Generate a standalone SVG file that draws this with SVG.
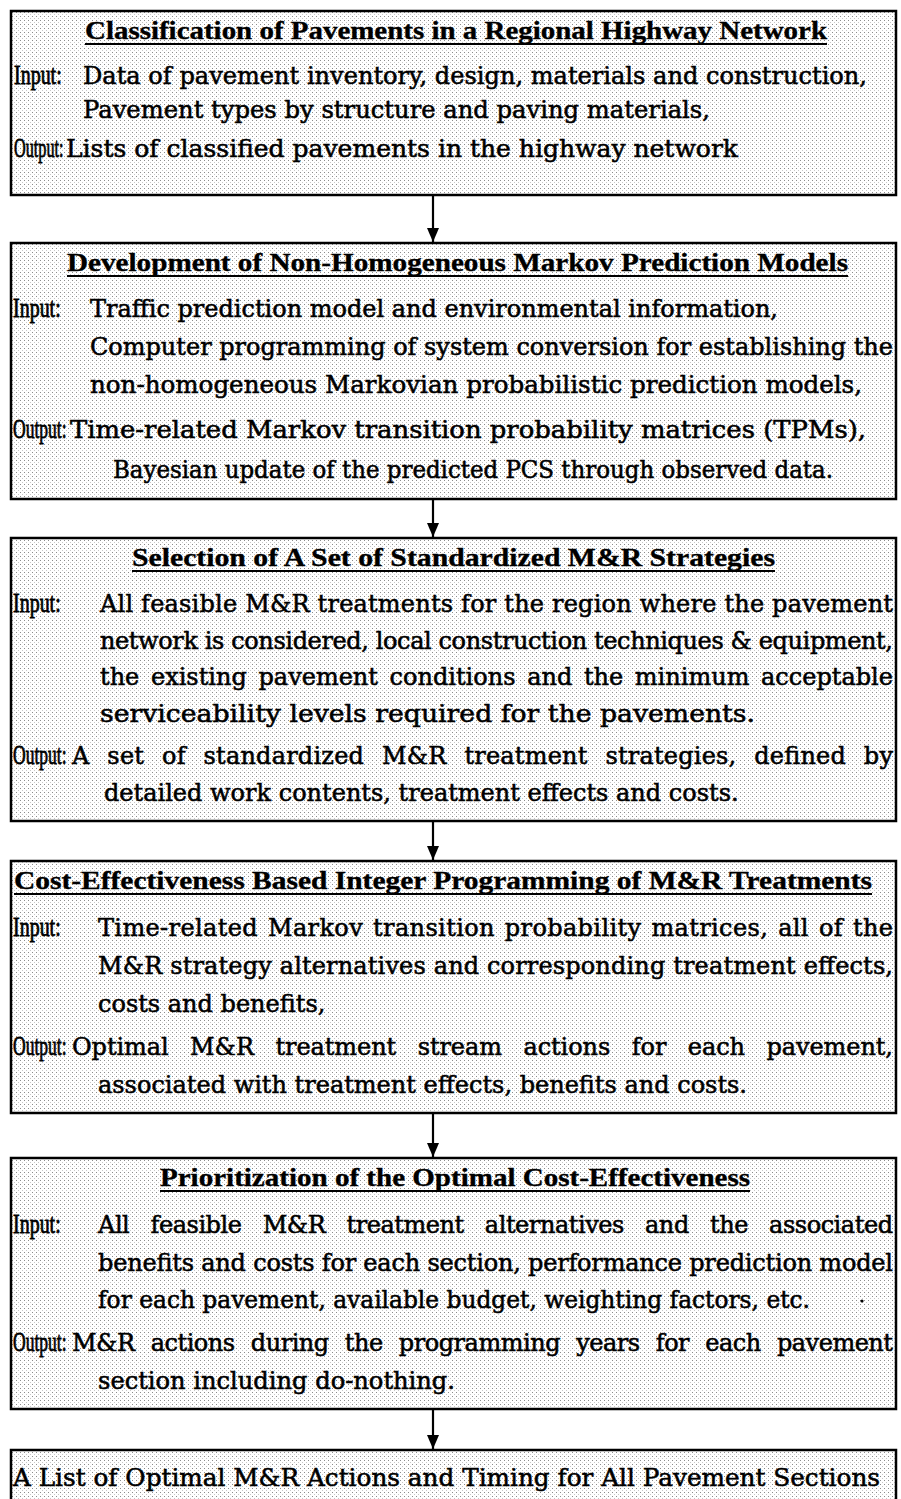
<svg xmlns="http://www.w3.org/2000/svg" width="901" height="1499" viewBox="0 0 901 1499">
  <defs>
    <!-- halftone screen used as the box fill -->
    <pattern id="stipple" width="4" height="4" patternUnits="userSpaceOnUse">
      <rect width="4" height="4" fill="#ffffff"/>
      <rect x="0" y="0" width="1" height="1" fill="#8c8c8c"/>
      <rect x="2" y="2" width="1" height="1" fill="#c8c8c8"/>
    </pattern>
    <marker id="arrowhead" markerUnits="userSpaceOnUse" markerWidth="14" markerHeight="12" viewBox="0 0 14 12" refX="14" refY="6" orient="auto">
      <path d="M0,0 L14,6 L0,12 Z" fill="#000"/>
    </marker>
  </defs>
  <style>
    .box{fill:url(#stipple);stroke:#000;stroke-width:2.5}
    .t{font-family:"DejaVu Serif","Liberation Serif",serif;font-size:24px;fill:#000;stroke:#000;stroke-width:0.55}
    .lbl{font-family:"Liberation Serif","DejaVu Serif",serif;font-size:27px;fill:#000;stroke:#000;stroke-width:0.8}
    .h{font-family:"Liberation Serif","DejaVu Serif",serif;font-size:26px;font-weight:bold;fill:#000;stroke:#000;stroke-width:0.35}
    .u{stroke:#000;stroke-width:2}
    .conn{stroke:#000;stroke-width:2.2;fill:none;marker-end:url(#arrowhead)}
  </style>

  <rect width="901" height="1499" fill="#ffffff"/>

  <!-- step 1 -->
  <g id="classification">
    <rect class="box" x="11" y="11" width="885" height="184"/>
    <text class="h" x="85" y="39" textLength="742" lengthAdjust="spacingAndGlyphs">Classification of Pavements in a Regional Highway Network</text>
    <line class="u" x1="85" y1="44" x2="827" y2="44"/>
    <text class="lbl" transform="translate(14,84) scale(0.74,1)">Input:</text>
    <text class="t" x="83" y="84" textLength="784" lengthAdjust="spacingAndGlyphs">Data of pavement inventory, design, materials and construction,</text>
    <text class="t" x="83" y="118" textLength="627" lengthAdjust="spacingAndGlyphs">Pavement types by structure and paving materials,</text>
    <text class="lbl" transform="translate(14,157) scale(0.6,1)">Output:</text>
    <text class="t" x="66" y="157" textLength="672" lengthAdjust="spacingAndGlyphs">Lists of classified pavements in the highway network</text>
  </g>

  <!-- step 2 -->
  <g id="markov-models">
    <rect class="box" x="11" y="243" width="885" height="256"/>
    <text class="h" x="67" y="271" textLength="781" lengthAdjust="spacingAndGlyphs">Development of Non-Homogeneous Markov Prediction Models</text>
    <line class="u" x1="67" y1="276" x2="848" y2="276"/>
    <text class="lbl" transform="translate(13,317) scale(0.74,1)">Input:</text>
    <text class="t" x="90" y="317" textLength="688" lengthAdjust="spacingAndGlyphs">Traffic prediction model and environmental information,</text>
    <text class="t" x="90" y="355" textLength="803" lengthAdjust="spacingAndGlyphs">Computer programming of system conversion for establishing the</text>
    <text class="t" x="90" y="393" textLength="772" lengthAdjust="spacingAndGlyphs">non-homogeneous Markovian probabilistic prediction models,</text>
    <text class="lbl" transform="translate(13,438) scale(0.65,1)">Output:</text>
    <text class="t" x="70" y="438" textLength="796" lengthAdjust="spacingAndGlyphs">Time-related Markov transition probability matrices (TPMs),</text>
    <text class="t" x="113" y="478" textLength="720" lengthAdjust="spacingAndGlyphs">Bayesian update of the predicted PCS through observed data.</text>
  </g>

  <!-- step 3 -->
  <g id="mr-strategies">
    <rect class="box" x="11" y="538" width="885" height="283"/>
    <text class="h" x="132" y="566" textLength="643" lengthAdjust="spacingAndGlyphs">Selection of A Set of Standardized M&amp;R Strategies</text>
    <line class="u" x1="132" y1="571" x2="775" y2="571"/>
    <text class="lbl" transform="translate(13,612) scale(0.74,1)">Input:</text>
    <text class="t" x="100" y="612" textLength="793" lengthAdjust="spacing">All feasible M&amp;R treatments for the region where the pavement</text>
    <text class="t" x="100" y="649" textLength="793" lengthAdjust="spacing">network is considered, local construction techniques &amp; equipment,</text>
    <text class="t" x="100" y="685" textLength="793" lengthAdjust="spacing" word-spacing="4">the existing pavement conditions and the minimum acceptable</text>
    <text class="t" x="100" y="722" textLength="655" lengthAdjust="spacingAndGlyphs">serviceability levels required for the pavements.</text>
    <text class="lbl" transform="translate(13,764) scale(0.65,1)">Output:</text>
    <text class="t" x="72" y="764" textLength="821" lengthAdjust="spacing" word-spacing="10">A set of standardized M&amp;R treatment strategies, defined by</text>
    <text class="t" x="104" y="801">detailed work contents, treatment effects and costs.</text>
  </g>

  <!-- step 4 -->
  <g id="integer-programming">
    <rect class="box" x="11" y="861" width="885" height="252"/>
    <text class="h" x="14" y="889" textLength="858" lengthAdjust="spacingAndGlyphs">Cost-Effectiveness Based Integer Programming of  M&amp;R Treatments</text>
    <line class="u" x1="14" y1="894" x2="872" y2="894"/>
    <text class="lbl" transform="translate(13,936) scale(0.74,1)">Input:</text>
    <text class="t" x="98" y="936" textLength="795" lengthAdjust="spacing" word-spacing="2">Time-related Markov transition probability matrices, all of the</text>
    <text class="t" x="98" y="974" textLength="795" lengthAdjust="spacing">M&amp;R strategy alternatives and corresponding treatment effects,</text>
    <text class="t" x="98" y="1012">costs and benefits,</text>
    <text class="lbl" transform="translate(13,1055) scale(0.65,1)">Output:</text>
    <text class="t" x="72" y="1055" textLength="821" lengthAdjust="spacing" word-spacing="14">Optimal M&amp;R treatment stream actions for each pavement,</text>
    <text class="t" x="98" y="1093" textLength="649" lengthAdjust="spacingAndGlyphs">associated with treatment effects, benefits and costs.</text>
  </g>

  <!-- step 5 -->
  <g id="prioritization">
    <rect class="box" x="11" y="1158" width="885" height="251"/>
    <text class="h" x="160" y="1186" textLength="590" lengthAdjust="spacingAndGlyphs">Prioritization of the Optimal Cost-Effectiveness</text>
    <line class="u" x1="160" y1="1191" x2="750" y2="1191"/>
    <text class="lbl" transform="translate(13,1233) scale(0.74,1)">Input:</text>
    <text class="t" x="98" y="1233" textLength="795" lengthAdjust="spacing" word-spacing="14">All feasible M&amp;R treatment alternatives and the associated</text>
    <text class="t" x="98" y="1271" textLength="795" lengthAdjust="spacing">benefits and costs for each section, performance prediction model</text>
    <text class="t" x="98" y="1308" textLength="712" lengthAdjust="spacingAndGlyphs">for each pavement, available budget, weighting factors, etc.</text>
    <circle cx="862" cy="1301" r="1.6" fill="#000"/>
    <text class="lbl" transform="translate(13,1351) scale(0.65,1)">Output:</text>
    <text class="t" x="72" y="1351" textLength="821" lengthAdjust="spacing" word-spacing="9">M&amp;R actions during the programming years for each pavement</text>
    <text class="t" x="98" y="1389" textLength="357" lengthAdjust="spacingAndGlyphs">section including do-nothing.</text>
  </g>

  <!-- result -->
  <g id="result">
    <rect class="box" x="11" y="1450" width="885" height="70"/>
    <text class="t" x="13" y="1486" textLength="867" lengthAdjust="spacingAndGlyphs">A List of Optimal M&amp;R Actions and Timing for All Pavement Sections</text>
  </g>

  <!-- flow arrows between steps -->
  <g id="connectors">
    <path class="conn" d="M433,196 V242"/>
    <path class="conn" d="M433,500 V537"/>
    <path class="conn" d="M433,822 V860"/>
    <path class="conn" d="M433,1114 V1157"/>
    <path class="conn" d="M433,1410 V1449"/>
  </g>
</svg>
